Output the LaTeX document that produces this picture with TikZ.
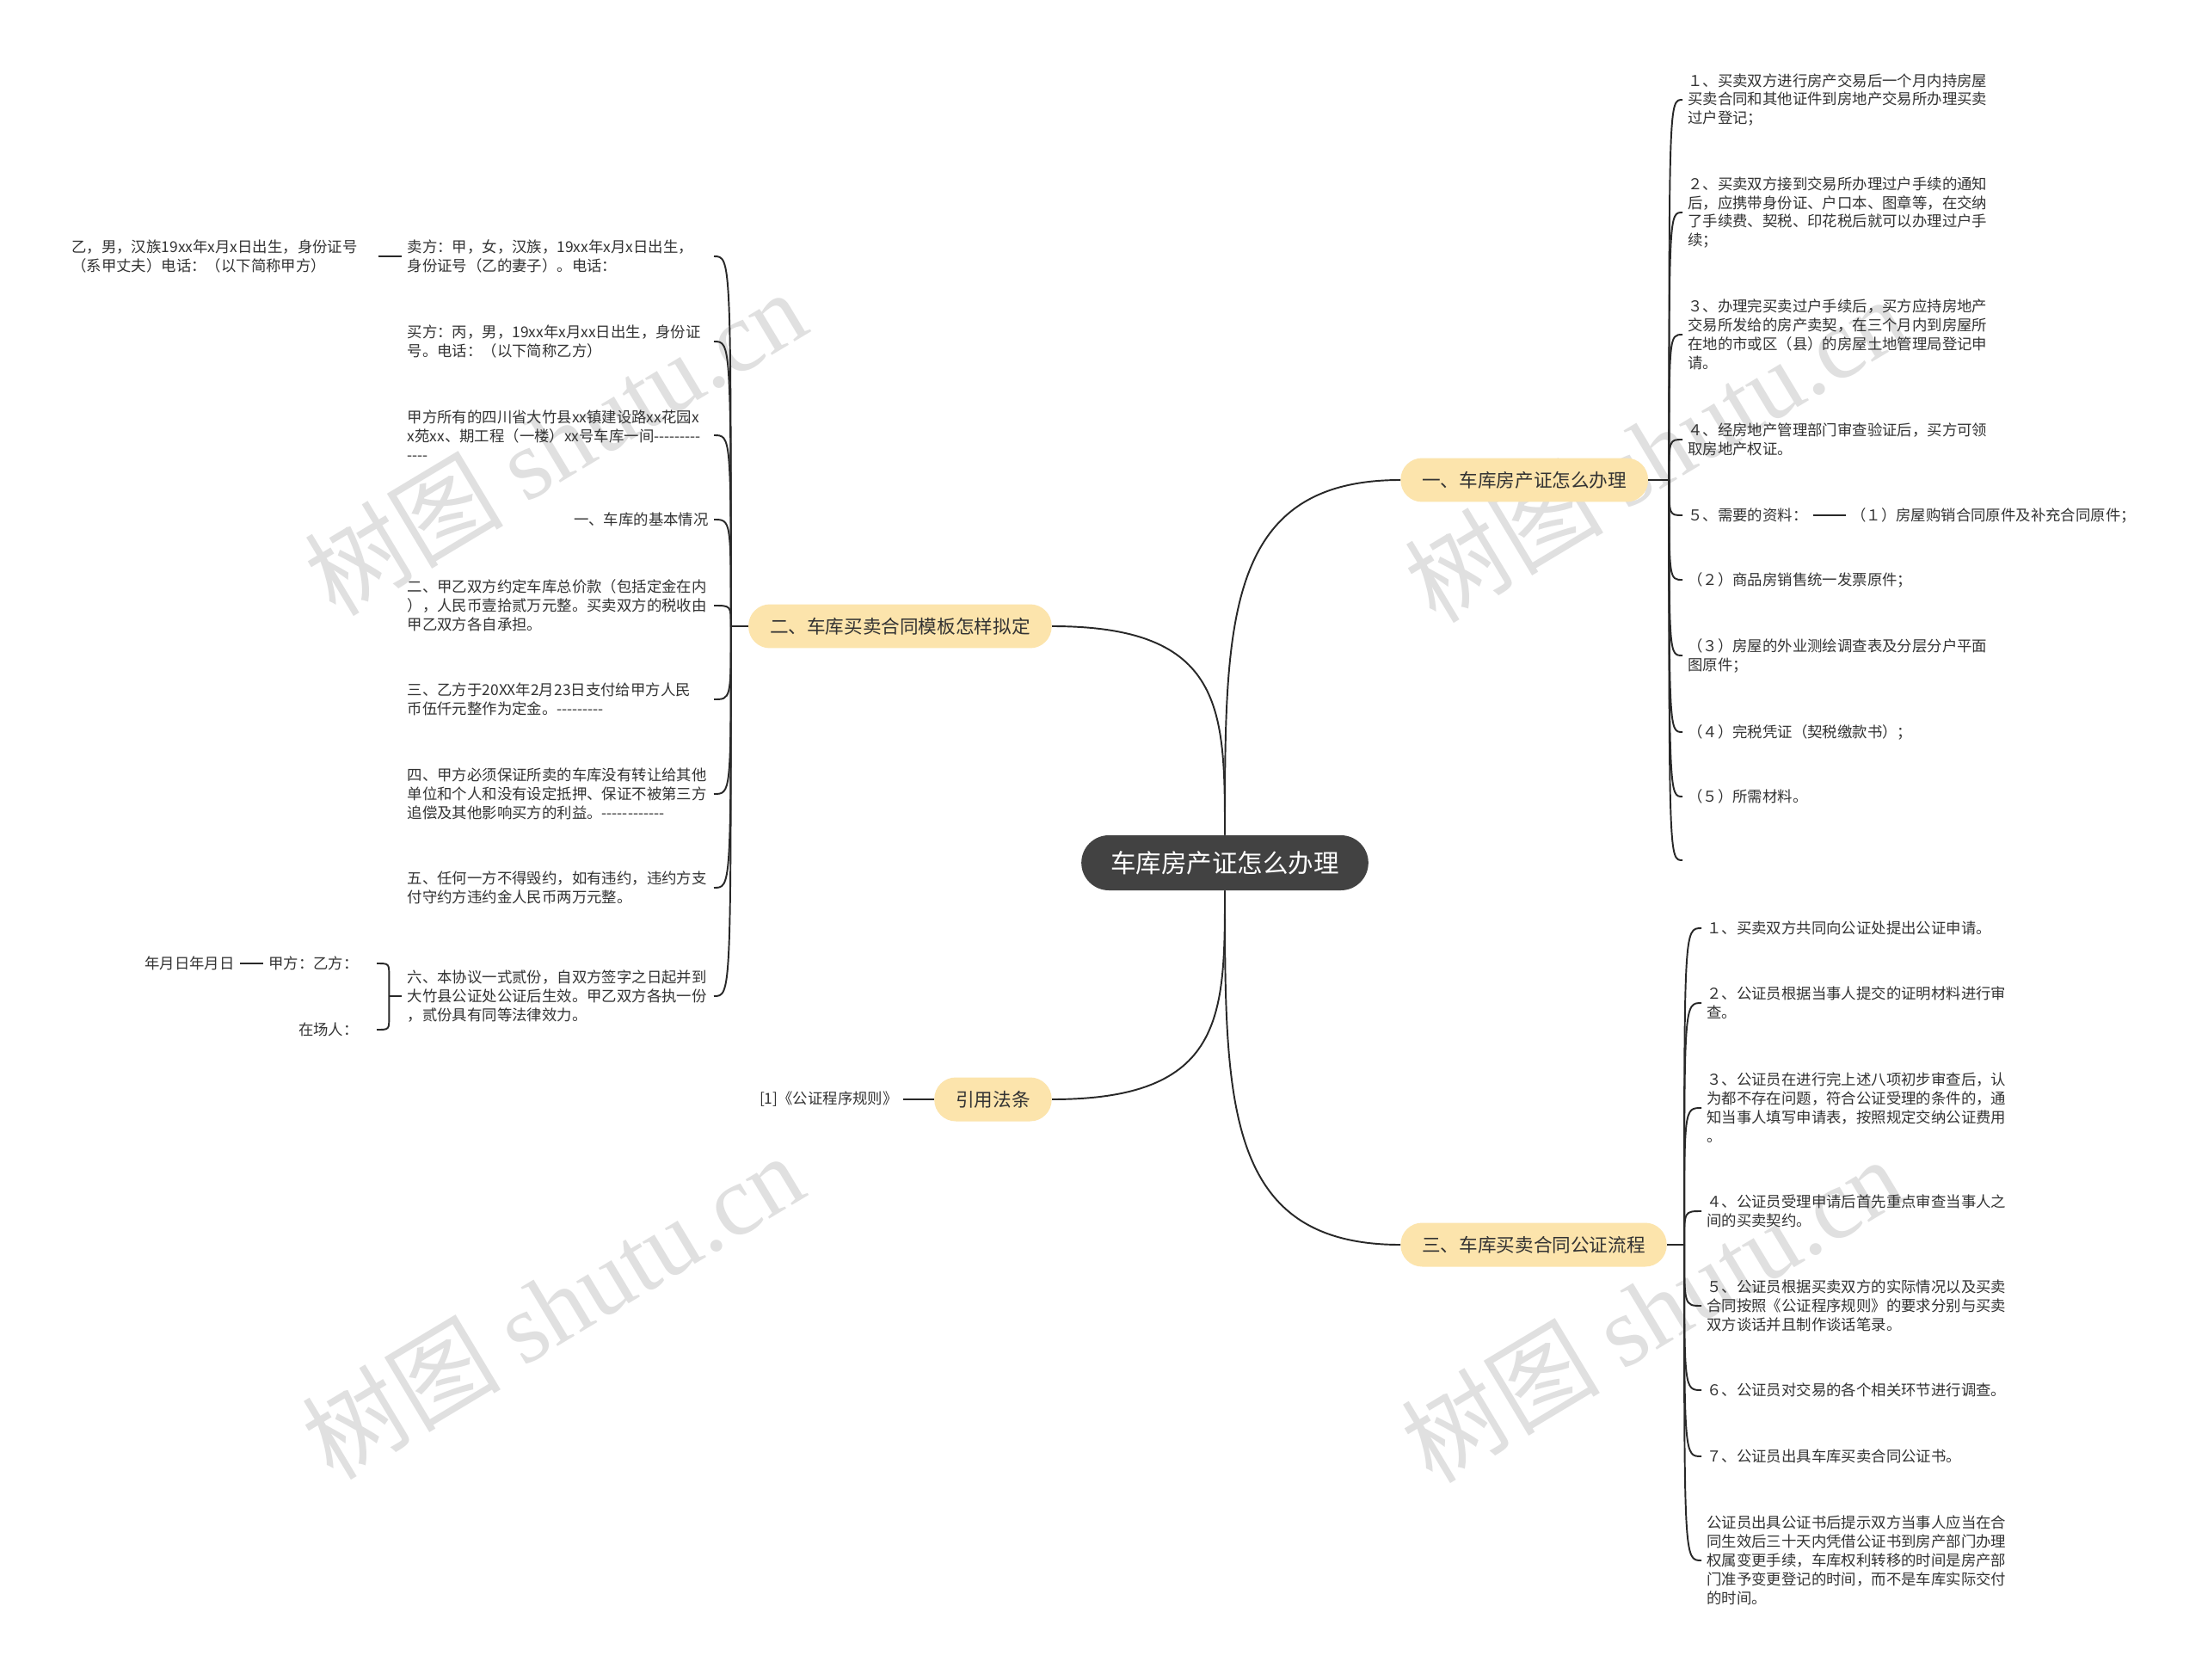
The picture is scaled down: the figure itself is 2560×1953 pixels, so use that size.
\documentclass[tikz,border=0pt]{standalone}
\usepackage{fontspec}
\setmainfont{Noto Sans CJK SC}
\newfontfamily\wmserif{Liberation Serif}
\usepackage{xcolor}
\definecolor{mtext}{RGB}{51,51,51}
\definecolor{mline}{RGB}{40,40,40}
\definecolor{mroot}{RGB}{66,66,66}
\definecolor{mtopic}{RGB}{252,228,172}
\definecolor{mwater}{RGB}{224,224,224}
\usetikzlibrary{calc}
\newcommand{\dashrun}[1]{\mbox{\foreach \k in {1,...,#1}{\hbox{-}}}}

\begin{document}
\begin{tikzpicture}[x=0.02cm, y=-0.02cm,
  rootbox/.style={fill=mroot, text=white, rounded corners=0.64cm, minimum height=1.28cm,
                  inner xsep=0.68cm, font=\fontsize{16.8}{20}\selectfont},
  topic/.style={fill=mtopic, text=mtext, rounded corners=0.5cm, minimum height=1.02cm,
                inner xsep=0.5cm, font=\fontsize{12.3}{15}\selectfont},
  leaf/.style={text=mtext, align=left, inner xsep=0.12cm, inner ysep=0.08cm,
               font=\fontsize{9.9}{12.5}\selectfont},
  wrap/.style={leaf, text width=7cm},
  link/.style={draw=mline, line width=1.1pt},
  wmark/.style={text=mwater, rotate=31, font=\fontsize{66}{70}\selectfont}]

\fill[white] (0,0) rectangle (2560,1953);
\useasboundingbox (0,0) rectangle (2560,1953);

% --- watermarks ---
\node[wmark] (wm1) at (645,514) {树图 {\wmserif shutu.cn}};
\node[wmark] (wm2) at (1924,522) {树图 {\wmserif shutu.cn}};
\node[wmark] (wm3) at (642,1518) {树图 {\wmserif shutu.cn}};
\node[wmark] (wm4) at (1920,1522) {树图 {\wmserif shutu.cn}};

% --- root and main topics ---
\node[rootbox] (root) at (1424,1003) {车库房产证怎么办理};
\node[topic, anchor=west] (sec1) at (1628,558) {一、车库房产证怎么办理};
\node[topic, anchor=east] (sec2) at (1223,728) {二、车库买卖合同模板怎样拟定};
\node[topic, anchor=east] (cite) at (1223,1278) {引用法条};
\node[topic, anchor=west] (sec3) at (1628,1447) {三、车库买卖合同公证流程};

% --- topic one: steps and papers ---
\node[leaf, anchor=west] (a1) at (1956,116) {１、买卖双方进行房产交易后一个月内持房屋\\买卖合同和其他证件到房地产交易所办理买卖\\过户登记；};
\node[leaf, anchor=west] (a2) at (1956,247) {２、买卖双方接到交易所办理过户手续的通知\\后，应携带身份证、户口本、图章等，在交纳\\了手续费、契税、印花税后就可以办理过户手\\续；};
\node[leaf, anchor=west] (a3) at (1956,389) {３、办理完买卖过户手续后，买方应持房地产\\交易所发给的房产卖契，在三个月内到房屋所\\在地的市或区（县）的房屋土地管理局登记申\\请。};
\node[leaf, anchor=west] (a4) at (1956,511) {４、经房地产管理部门审查验证后，买方可领\\取房地产权证。};
\node[leaf, anchor=west] (a5) at (1956,599) {５、需要的资料：};
\node[leaf, anchor=west] (a51) at (2146,599) {（１）房屋购销合同原件及补充合同原件；};
\node[leaf, anchor=west] (a6) at (1956,674) {（２）商品房销售统一发票原件；};
\node[leaf, anchor=west] (a7) at (1956,762) {（３）房屋的外业测绘调查表及分层分户平面\\图原件；};
\node[leaf, anchor=west] (a8) at (1956,851) {（４）完税凭证（契税缴款书）；};
\node[leaf, anchor=west] (a9) at (1956,926) {（５）所需材料。};
\coordinate (a10) at (1956,1000);

% --- topic two: contract text ---
\node[wrap, anchor=east] (c1) at (830,298) {卖方：甲，女，汉族，19xx年x月x日出生，\\身份证号（乙的妻子）。电话：};
\node[wrap, anchor=east] (c2) at (830,397) {买方：丙，男，19xx年x月xx日出生，身份证\\号。电话：（以下简称乙方）};
\node[wrap, anchor=east] (c3) at (830,506) {甲方所有的四川省大竹县xx镇建设路xx花园x\\x苑xx、期工程（一楼）xx号车库一间\dashrun{9}\\\dashrun{4}};
\node[leaf, anchor=east] (c4) at (830,604) {一、车库的基本情况};
\node[wrap, anchor=east] (c5) at (830,704) {二、甲乙双方约定车库总价款（包括定金在内\\），人民币壹拾贰万元整。买卖双方的税收由\\甲乙双方各自承担。};
\node[wrap, anchor=east] (c6) at (830,813) {三、乙方于20XX年2月23日支付给甲方人民\\币伍仟元整作为定金。\dashrun{9}};
\node[wrap, anchor=east] (c7) at (830,923) {四、甲方必须保证所卖的车库没有转让给其他\\单位和个人和没有设定抵押、保证不被第三方\\追偿及其他影响买方的利益。\dashrun{12}};
\node[wrap, anchor=east] (c8) at (830,1032) {五、任何一方不得毁约，如有违约，违约方支\\付守约方违约金人民币两万元整。};
\node[wrap, anchor=east] (c9) at (830,1158) {六、本协议一式贰份，自双方签字之日起并到\\大竹县公证处公证后生效。甲乙双方各执一份\\，贰份具有同等法律效力。};

% sub items on the far left
\node[wrap, anchor=west] (d1) at (77,298) {乙，男，汉族19xx年x月x日出生，身份证号\\（系甲丈夫）电话：（以下简称甲方）};
\node[leaf, anchor=east] (e1) at (423,1120) {甲方：乙方：};
\node[leaf, anchor=east] (e2) at (423,1197) {在场人：};
\node[leaf, anchor=east] (e3) at (279,1120) {年月日年月日};

% --- cited rule ---
\node[leaf, anchor=east] (f1) at (1050,1278) {[1]《公证程序规则》};

% --- topic three: notary steps ---
\node[leaf, anchor=west] (b1) at (1978,1079) {１、买卖双方共同向公证处提出公证申请。};
\node[leaf, anchor=west] (b2) at (1978,1166) {２、公证员根据当事人提交的证明材料进行审\\查。};
\node[leaf, anchor=west] (b3) at (1978,1288) {３、公证员在进行完上述八项初步审查后，认\\为都不存在问题，符合公证受理的条件的，通\\知当事人填写申请表，按照规定交纳公证费用\\。};
\node[leaf, anchor=west] (b4) at (1978,1408) {４、公证员受理申请后首先重点审查当事人之\\间的买卖契约。};
\node[leaf, anchor=west] (b5) at (1978,1518) {５、公证员根据买卖双方的实际情况以及买卖\\合同按照《公证程序规则》的要求分别与买卖\\双方谈话并且制作谈话笔录。};
\node[leaf, anchor=west] (b6) at (1978,1616) {６、公证员对交易的各个相关环节进行调查。};
\node[leaf, anchor=west] (b7) at (1978,1693) {７、公证员出具车库买卖合同公证书。};
\node[leaf, anchor=west] (b8) at (1978,1814) {公证员出具公证书后提示双方当事人应当在合\\同生效后三十天内凭借公证书到房产部门办理\\权属变更手续，车库权利转移的时间是房产部\\门准予变更登记的时间，而不是车库实际交付\\的时间。};

% --- root to topics ---
\coordinate (k1) at (root.north |- sec1.west);
\coordinate (k2) at (root.north |- sec2.east);
\coordinate (k3) at (root.south |- cite.east);
\coordinate (k4) at (root.south |- sec3.west);
\draw[link] (root.north) .. controls ($(root.north)!0.6!(k1)$) and (k1) .. (sec1.west);
\draw[link] (root.north) .. controls ($(root.north)!0.6!(k2)$) and (k2) .. (sec2.east);
\draw[link] (root.south) .. controls ($(root.south)!0.6!(k3)$) and (k3) .. (cite.east);
\draw[link] (root.south) .. controls ($(root.south)!0.6!(k4)$) and (k4) .. (sec3.west);

% --- topic one fan ---
\coordinate (t1) at ($(sec1.east)+(24,0)$);
\draw[link] (sec1.east) -- (t1);
\foreach \n in {a1,a2,a3,a4,a5,a6,a7,a8,a9}
  \draw[link] (t1) .. controls (t1 |- \n.west) .. (\n.west);
\draw[link] (t1) .. controls (t1 |- a10) .. (a10);
\draw[link] (a5.east) -- (a51.west);

% --- topic two fan ---
\coordinate (t2) at ($(sec2.west)+(-20,0)$);
\draw[link] (sec2.west) -- (t2);
\foreach \n in {c1,c2,c3,c4,c5,c6,c7,c8,c9}
  \draw[link] (t2) .. controls (t2 |- \n.east) .. (\n.east);
\draw[link] (d1.east) -- (c1.west);

% brace on item six
\coordinate (bx) at ($(c9.west)+(-15,0)$);
\draw[link] (c9.west) -- (bx |- c9.west);
\draw[link] ($(e1.east)+(15,0)$) .. controls (bx |- e1.east) .. ($(bx |- e1.east)+(0,15)$)
  -- ($(bx |- e2.east)+(0,-15)$) .. controls (bx |- e2.east) .. ($(e2.east)+(15,0)$);
\draw[link] (e3.east) -- (e1.west);

% --- cite ---
\draw[link] (f1.east) -- (cite.west);

% --- topic three fan ---
\coordinate (t3) at ($(sec3.east)+(20,0)$);
\draw[link] (sec3.east) -- (t3);
\foreach \n in {b1,b2,b3,b4,b5,b6,b7,b8}
  \draw[link] (t3) .. controls (t3 |- \n.west) .. (\n.west);

\end{tikzpicture}
\end{document}
